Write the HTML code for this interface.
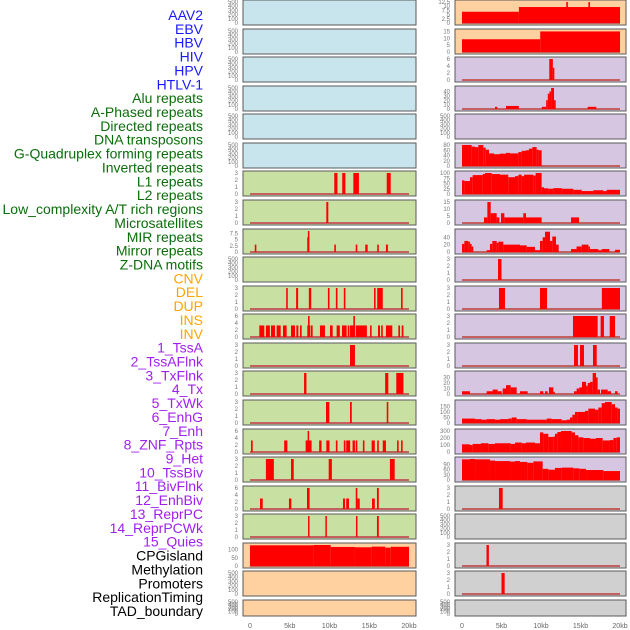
<!DOCTYPE html>
<html><head><meta charset="utf-8"><style>
html,body{margin:0;padding:0;background:#fff;width:630px;height:630px;overflow:hidden}
svg{display:block}
</style></head><body>
<svg id="chart" width="630" height="630" xmlns="http://www.w3.org/2000/svg"></svg>
<script>
const labelNames = ["AAV2","EBV","HBV","HIV","HPV","HTLV-1","Alu repeats","A-Phased repeats","Directed repeats","DNA transposons","G-Quadruplex forming repeats","Inverted repeats","L1 repeats","L2 repeats","Low_complexity A/T rich regions","Microsatellites","MIR repeats","Mirror repeats","Z-DNA motifs","CNV","DEL","DUP","INS","INV","1_TssA","2_TssAFlnk","3_TxFlnk","4_Tx","5_TxWk","6_EnhG","7_Enh","8_ZNF_Rpts","9_Het","10_TssBiv","11_BivFlnk","12_EnhBiv","13_ReprPC","14_ReprPCWk","15_Quies","CPGisland","Methylation","Promoters","ReplicationTiming","TAD_boundary"];
const labelGroups = [6,13,5,15,5];
const groupColors = ["#1a1aff","#0a6e0a","#ffa500","#a020f0","#000000"];
const groupBg = ["#c8e4ec","#c8e0a2","#ffd0a0","#d6c6e2","#d0d0d0"];
const xTickVals = [0,5,10,15,20];
const xTickLabels = ["0","5kb","10kb","15kb","20kb"];
const emptyTicks = [0,100,200,300,400,500];
const t3 = [0,1,2,3];
const t6 = [0,2,4,6];

// panels in column-major order: [ymax, ticks, bars [kbStart,kbEnd,value]] or steps {edges, vals}
const L1=[],L2=[],L3=[],L4=[],L5=[],L6=[],L10=[],L21=[],L22=[];
const L7=[[10.6,11.0,3],[11.6,12.0,3],[13.0,13.7,3],[17.2,17.7,3]];
const L8=[[9.6,9.85,3]];
const L9=[[0.6,0.8,3],[7.2,7.45,6],[7.28,7.38,8.5],[10.6,10.8,3],[13.3,13.5,3],[14.5,14.8,3],[16.0,16.2,3],[17.1,17.35,3]];
const L11=[[4.55,4.75,3],[5.8,6.05,3],[7.4,7.7,3],[9.8,10.0,3],[10.8,11.0,3],[11.8,12.0,3],[15.6,15.8,3],[16.0,16.7,3],[19.0,19.2,3]];
const L12=[[1.17,1.8,3.3],[2.0,2.5,3.3],[2.64,3.14,3.3],[3.35,3.86,3.3],[4.15,4.61,3.3],[5.16,5.66,3.3],[5.83,6.08,3.3],[6.29,6.5,3.3],[7.21,7.55,3.3],[7.3,7.5,6],[7.63,7.88,3.3],[8.8,9.43,3.3],[10.06,10.4,3.3],[10.9,11.3,3.3],[11.57,12.16,3.3],[12.3,12.5,3.3],[12.58,13.2,3.3],[13.0,13.2,6],[13.3,14.7,3.3],[15.1,15.3,3.3],[16.1,16.35,3.3],[16.5,16.7,3.3],[17.1,17.9,3.3],[18.66,18.87,3.3],[19.08,19.3,3.3]];
const L13=[[12.58,13.2,3]];
const L14=[[6.8,7.1,3],[17.0,17.4,3],[18.4,19.3,3]];
const L15=[[9.56,9.98,3],[12.58,12.8,3],[17.2,17.4,3]];
const L16=[[0.13,0.34,3.3],[4.3,4.7,3.3],[7.0,7.75,3.3],[7.25,7.4,6],[8.7,9.0,3.3],[9.6,10.0,3.3],[10.8,11.0,3.3],[11.8,12.0,3.3],[12.1,12.6,3.3],[12.9,13.2,3.3],[13.3,13.5,3.3],[14.2,14.4,3.3],[15.3,15.7,3.3],[16.0,16.2,3.3],[16.7,17.1,3.3],[18.5,18.7,3.3],[19.0,19.2,3.3]];
const L17=[[2.0,3.0,3],[5.16,5.5,3],[9.9,10.3,3],[17.6,18.2,3]];
const L18=[[1.26,1.6,3],[4.9,5.2,3],[7.17,7.5,6],[11.7,11.95,3],[12.1,12.45,3],[13.3,13.5,6],[13.5,13.8,3],[15.35,15.7,3],[15.97,16.2,6]];
const L19=[[7.3,7.45,3],[9.48,9.65,3],[13.33,13.5,3],[15.97,16.2,3]];
const L20=[[0,8.0,126],[8.0,10.15,128],[10.15,13.2,116],[13.2,15.3,114],[15.3,17.0,118],[17.0,17.7,112],[17.7,20,117]];
const R1=[[0,7.2,6.7],[7.2,20,9.5],[13.2,13.4,12.5],[16.0,16.2,12.5]];
const R2=[[0,9.9,9.4],[9.9,20,15.2]];
const R3=[[11.05,11.5,6],[11.5,11.65,3.5]];
const R4=[[4.18,4.47,5],[5.57,7.2,7],[10.1,10.65,5],[10.65,10.86,20],[10.86,11.07,35],[11.07,11.28,40],[11.28,11.65,48],[11.65,11.86,20],[15.9,17.0,5]];
const R5=[];
const R6edges=[0,1.22,1.65,2.07,2.7,3.0,3.42,4.05,4.81,5.57,6.08,7.13,7.55,8.1,8.48,8.9,9.45,9.7,10.08];
const R6vals=[80,74,72,80,70,62,48,45,47,50,48,53,58,60,66,72,62,60];
const R7edges=[0,0.3,1.01,1.35,2.62,2.91,3.76,4.81,5.86,6.71,7.13,7.55,7.85,9.03,9.32,10.08,10.38,10.93,11.56,12.62,14.09,15.15,16.62,17.89,18.31,20];
const R7vals=[65,62,80,90,95,100,95,92,80,85,92,85,92,88,100,32,27,25,28,25,20,14,18,14,20];
const R8=[[2.78,3.21,4],[3.21,3.63,15],[3.63,4.39,7],[4.39,4.73,4],[4.94,5.36,7],[5.36,7.76,4],[7.76,8.1,7],[8.1,10.08,4],[13.8,14.81,4]];
const R9=[[0,0.3,22],[0.3,0.8,30],[0.8,1.01,28],[1.01,1.22,22],[1.22,1.43,15],[3.12,3.54,5],[3.54,3.84,22],[3.84,4.39,30],[4.39,4.6,25],[4.6,5.23,28],[5.23,7.34,20],[7.34,8.19,18],[8.19,9.24,14],[9.24,9.87,5],[9.87,10.21,30],[10.21,10.51,40],[10.51,11.14,55],[11.14,11.43,30],[11.43,11.9,42],[11.9,12.24,20],[13.8,14.5,8],[14.5,15.15,15],[15.15,16.0,20],[16.0,16.2,15],[16.2,17.26,8],[17.26,17.68,5],[17.68,18.65,8],[19.37,20,6]];
const R10=[[4.56,5.0,3]];
const R11=[[4.68,5.44,3],[9.87,10.76,3],[17.7,20,3]];
const R12=[[14.05,17.17,3],[17.55,17.97,3],[18.7,19.37,3]];
const R13=[[14.18,14.68,3],[14.94,15.44,3],[16.58,17.05,3]];
const R14=[[0,1.01,5],[3.12,3.88,5],[3.88,4.51,8],[4.51,5.02,5],[5.15,5.57,10],[5.57,6.16,16],[6.16,6.92,12],[7.34,8.31,5],[9.87,10.3,5],[10.51,10.84,5],[11.01,11.56,12],[11.56,11.69,4],[14.18,14.51,5],[14.51,14.85,10],[14.85,15.19,12],[15.19,15.7,22],[15.7,15.91,15],[15.91,16.2,20],[16.2,16.54,22],[16.54,16.96,38],[16.96,17.17,30],[17.17,17.47,8],[17.6,18.44,8],[18.44,18.86,5],[19.37,19.7,5]];
const R15edges=[0,1.65,2.49,3.12,4.18,4.81,5.86,6.29,6.92,8.19,10.72,11.35,12.62,13.25,13.67,13.97,14.3,14.6,15.57,15.99,16.84,17.26,17.68,18.1,18.95,19.37,19.7,20];
const R15vals=[40,35,30,35,30,35,40,50,35,30,40,35,25,30,50,75,100,100,110,130,120,140,180,190,170,140,130];
const R16edges=[0,1.01,1.35,2.41,3.33,4.18,6.16,6.71,7.55,8.1,9.24,9.87,10.3,10.93,11.56,11.77,12.07,12.53,13.88,14.3,14.73,15.36,16.2,16.96,17.81,18.73,19.16,19.58,20];
const R16vals=[110,100,115,125,115,125,115,135,125,135,125,280,260,215,220,260,285,300,280,240,210,200,190,200,165,170,200,210];
const R17edges=[0,1.01,1.65,3.54,4.18,6.08,6.71,7.34,8.27,9.03,10.21,10.93,11.77,12.62,14.09,14.85,15.7,17.89,20];
const R17vals=[120,122,120,113,110,107,110,105,100,108,65,60,70,72,68,65,58,52];
const R18=[[4.68,5.15,3]];
const R19=[];
const R20=[[3.1,3.4,3]];
const R21=[[5.0,5.4,3]];
const R22=[];

function steps(edges, vals){ const out=[]; for(let i=0;i<vals.length;i++) out.push([edges[i],edges[i+1],vals[i]]); return out; }

const leftPanels = [
 [500,emptyTicks,L1],[500,emptyTicks,L2],[500,emptyTicks,L3],[500,emptyTicks,L4],[500,emptyTicks,L5],[500,emptyTicks,L6],
 [3,t3,L7],[3,t3,L8],[8.5,[0,2.5,5,7.5],L9],[500,emptyTicks,L10],[3,t3,L11],[6,t6,L12],[3,t3,L13],[3,t3,L14],[3,t3,L15],[6,t6,L16],[3,t3,L17],[6,t6,L18],[3,t3,L19],
 [128,[0,50,100],L20],[500,emptyTicks,L21],[500,emptyTicks,L22]];
const leftBg = [0,0,0,0,0,0,1,1,1,1,1,1,1,1,1,1,1,1,1,2,2,2];
const rightPanels = [
 [12.5,[0,2.5,5,7.5,10,12.5],R1],[15.5,[0,5,10,15],R2],[6,t6,R3],[48,[0,10,20,30,40],R4],[500,emptyTicks,R5],
 [80,[0,20,40,60,80],steps(R6edges,R6vals)],[100,[0,25,50,75,100],steps(R7edges,R7vals)],[15,[0,5,10,15],R8],[57,[0,20,40],R9],[3,t3,R10],
 [3,t3,R11],[3,t3,R12],[3,t3,R13],[38,[0,10,20,30],R14],[190,[0,50,100,150],steps(R15edges,R15vals)],[300,[0,100,200,300],steps(R16edges,R16vals)],[122,[0,30,60,90],steps(R17edges,R17vals)],
 [3,t3,R18],[500,emptyTicks,R19],[3,t3,R20],[3,t3,R21],[500,emptyTicks,R22]];
const rightBg = [2,2,3,3,3,3,3,3,3,3,3,3,3,3,3,3,3,4,4,4,4,4];

const NS="http://www.w3.org/2000/svg";
const svg=document.getElementById('chart');
function mk(tag, attrs, parent){ const e=document.createElementNS(NS,tag); for(const k in attrs) e.setAttribute(k,attrs[k]); (parent||svg).appendChild(e); return e; }

// labels
let gi=0, cnt=0;
labelNames.forEach((n,i)=>{
  while(cnt>=labelGroups[gi]){ cnt-=labelGroups[gi]; gi++; }
  const t=mk('text',{x:203,y:(15+i*13.86+5).toFixed(1),'text-anchor':'end','font-family':'Liberation Sans, sans-serif','font-size':'14',fill:groupColors[gi]});
  t.textContent=n;
  
  
  cnt++;
});

function rowTop(i){ return Math.round(i*28.57); }
function rowH(i){ return i===21?16:25; }

function drawPanel(col, i, spec, bgIdx){
  const [ymax, ticks, bars] = spec;
  const px = col===0?243:455, pw = col===0?173:171;
  const x0 = col===0?250:462, x20 = col===0?409:620;
  const top=rowTop(i), h=rowH(i);
  const xs = kb => x0 + kb/20*(x20-x0);
  const ys = v => (top+h-2) - v/ymax*(h-4);
  const g=mk('g',{});
  
  
  mk('rect',{x:px,y:top,width:pw,height:h,fill:groupBg[bgIdx],stroke:'#5a5a5a','stroke-width':1},g);
  ticks.forEach(tv=>{
    const t=mk('text',{x:col===0?238:450,y:(ys(tv)+2).toFixed(1),'text-anchor':'end','font-family':'Liberation Sans, sans-serif','font-size':'6',fill:'#777'},g);
    t.textContent=String(tv);
  });
  if(bars.length){
    const b=mk('rect',{x:xs(0),y:ys(0)-1,width:xs(20)-xs(0),height:2,fill:'#c46060'},g);
    
    
  }
  bars.forEach(([a,bb,v])=>{
    const xa=xs(a), w=Math.max(1.5,xs(bb)-xs(a));
    const r=mk('rect',{x:xa.toFixed(2),y:ys(v).toFixed(2),width:w.toFixed(2),height:(ys(0)-ys(v)).toFixed(2),fill:'#ff0000'},g);
    
    
  });
}
leftPanels.forEach((p,i)=>drawPanel(0,i,p,leftBg[i]));
rightPanels.forEach((p,i)=>drawPanel(1,i,p,rightBg[i]));

// x axes
[[250,409],[462,620]].forEach(([a,b],c)=>{
  xTickVals.forEach((v,k)=>{
    const t=mk('text',{x:(a+v/20*(b-a)).toFixed(1),y:628,'text-anchor':'middle','font-family':'Liberation Sans, sans-serif','font-size':'7',fill:'#666'});
    t.textContent=xTickLabels[k];
    
    
  });
});
</script>
</body></html>
